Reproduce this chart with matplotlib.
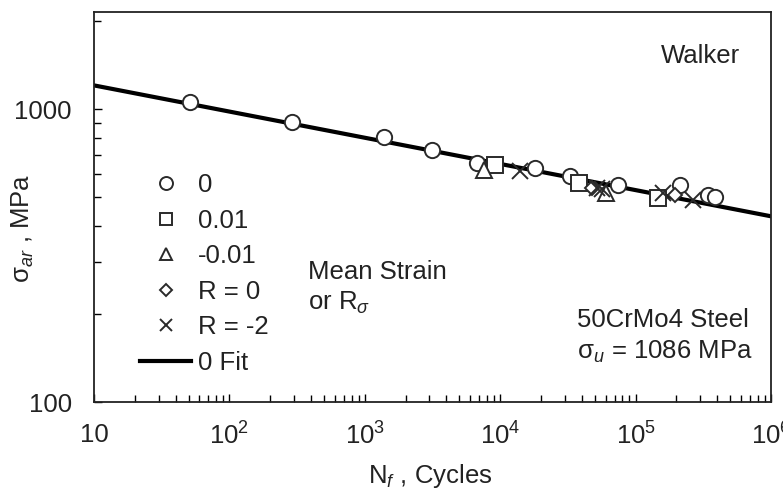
import numpy as np
import matplotlib
matplotlib.use('Agg')
import matplotlib.pyplot as plt
from matplotlib.ticker import FixedLocator, FixedFormatter, NullFormatter, LogLocator

plt.rcParams['font.family'] = ['Liberation Sans', 'DejaVu Sans']
plt.rcParams['mathtext.fontset'] = 'custom'
plt.rcParams['mathtext.rm'] = 'Liberation Sans'
plt.rcParams['mathtext.it'] = 'Liberation Sans:italic'
plt.rcParams['mathtext.sf'] = 'Liberation Sans'

# data (N_f in cycles, sigma_ar in MPa)
n_0 = [51, 290, 1387, 3133, 6750, 18060, 32800, 74100, 213000, 343000, 386000]
s_0 = [1057, 903, 803, 725, 654, 630, 590, 551, 551, 508, 501]
n_p01 = [9160, 38200, 146000]
s_p01 = [644, 559, 497]
n_m01 = [7590, 60400]
s_m01 = [619, 516]
n_r0 = [47600, 195000]
s_r0 = [537, 508]
n_rm2 = [14000, 51900, 56500, 159000, 265000]
s_rm2 = [614, 537, 533, 516, 489]
fit_n = [10, 1e6]
fit_s = [1207, 431]

xtick_vals = [10, 1e2, 1e3, 1e4, 1e5, 1e6]
xtick_labels = ['10', r'10$^2$', r'10$^3$', r'10$^4$', r'10$^5$', r'10$^6$']
ytick_vals = [100, 1000]
ytick_labels = ['100', '1000']

fs = 18.5
tc = '#222222'

fig = plt.figure(figsize=(7.83, 4.92), dpi=100)
ax = fig.add_axes([94/783, 1 - 402/492, (771 - 94)/783, (402 - 12)/492])

ec = '#2a2a2a'
ms = 11
ax.plot(fit_n, fit_s, color='black', lw=3, label='0 Fit', zorder=2)
ax.plot(n_0, s_0, 'o', ms=ms, mfc='white', mec=ec, mew=1.4, label='0', zorder=3)
ax.plot(n_p01, s_p01, 's', ms=ms, mfc='white', mec=ec, mew=1.4, label='0.01', zorder=3)
ax.plot(n_m01, s_m01, '^', ms=ms, mfc='white', mec=ec, mew=1.4, label='-0.01', zorder=3)
ax.plot(n_r0, s_r0, 'D', ms=7, mfc='white', mec=ec, mew=1.4, label='R = 0', zorder=3)
ax.plot(n_rm2, s_rm2, 'x', ms=ms, mec=ec, mew=1.4, label='R = -2', zorder=3)

ax.set_xscale('log')
ax.set_yscale('log')
ax.set_xlim(10, 1e6)
ax.set_ylim(100, 2150)

ax.xaxis.set_major_locator(FixedLocator(xtick_vals))
ax.xaxis.set_major_formatter(FixedFormatter(xtick_labels))
ax.xaxis.set_minor_locator(LogLocator(base=10, subs=np.arange(2, 10)))
ax.xaxis.set_minor_formatter(NullFormatter())
ax.yaxis.set_major_locator(FixedLocator(ytick_vals))
ax.yaxis.set_major_formatter(FixedFormatter(ytick_labels))
ax.yaxis.set_minor_locator(LogLocator(base=10, subs=np.arange(2, 10)))
ax.yaxis.set_minor_formatter(NullFormatter())

ax.tick_params(which='both', direction='in', top=False, right=False, width=1.0,
               labelsize=fs, labelcolor=tc)
ax.tick_params(which='major', length=6)
ax.tick_params(which='minor', length=5)
ax.tick_params(axis='x', which='major', pad=15)
ax.tick_params(axis='y', which='major', pad=16)
for sp in ax.spines.values():
    sp.set_linewidth(1.3)
    sp.set_color(tc)

ax.set_xlabel(r'N$_f$ , Cycles', fontsize=fs, color=tc)
ax.xaxis.set_label_coords(0.496, -0.155)
ax.set_ylabel(r'$\mathrm{\sigma}_{ar}$ , MPa', fontsize=fs, color=tc)
ax.yaxis.set_label_coords(-0.085, 0.446)

ax.text(0.954, 0.887, 'Walker', transform=ax.transAxes, fontsize=fs, ha='right', va='center', color=tc)
ax.text(0.316, 0.333, 'Mean Strain', transform=ax.transAxes, fontsize=fs, ha='left', va='center', color=tc)
ax.text(0.316, 0.254, r'or R$_\sigma$', transform=ax.transAxes, fontsize=fs, ha='left', va='center', color=tc)
ax.text(0.713, 0.21, '50CrMo4 Steel', transform=ax.transAxes, fontsize=fs, ha='left', va='center', color=tc)
ax.text(0.713, 0.128, r'$\mathrm{\sigma}_u$ = 1086 MPa', transform=ax.transAxes, fontsize=fs, ha='left', va='center', color=tc)

h, l = ax.get_legend_handles_labels()
order = [1, 2, 3, 4, 5, 0]
leg = ax.legend([h[i] for i in order], [l[i] for i in order], loc='upper left',
                bbox_to_anchor=(0.068, 0.587), frameon=False, fontsize=fs,
                markerscale=0.85, labelspacing=0.45, handlelength=2.0,
                handletextpad=0.25, borderaxespad=0, borderpad=0)
for t in leg.get_texts():
    t.set_color(tc)

plt.savefig('out.png', dpi=100)
